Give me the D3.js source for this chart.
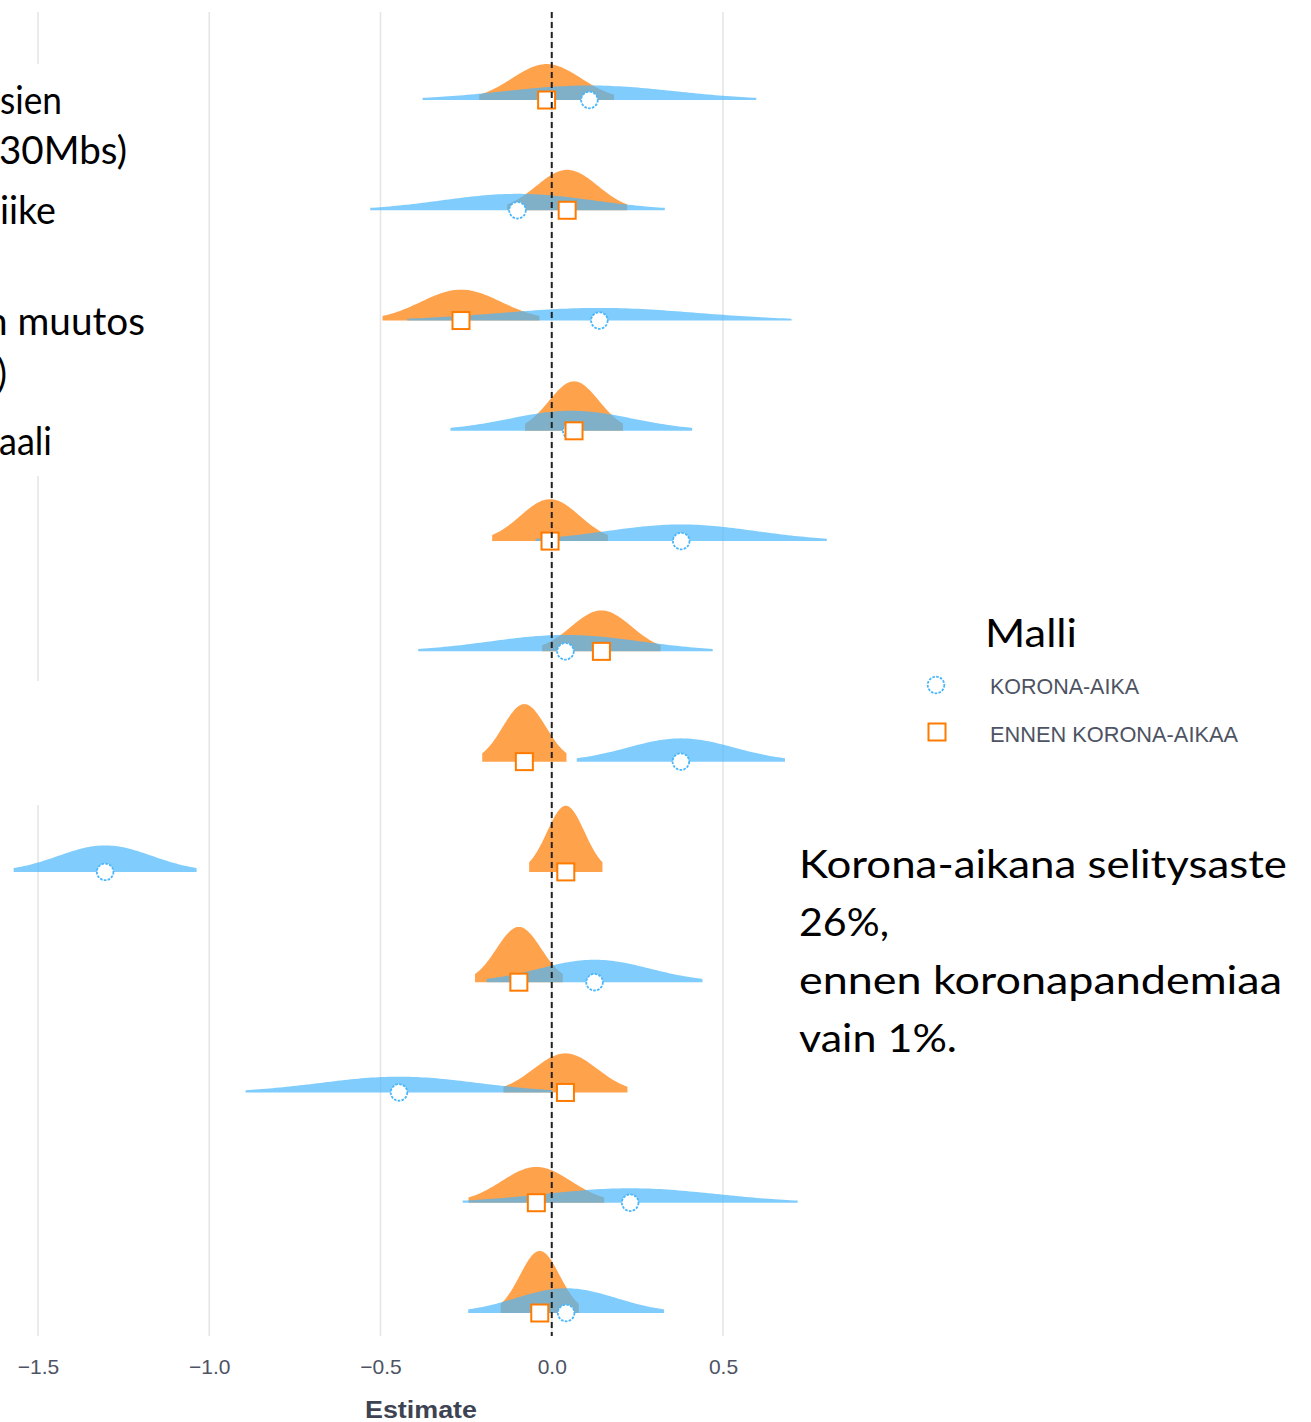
<!DOCTYPE html>
<html>
<head>
<meta charset="utf-8">
<script src="https://cdn.jsdelivr.net/npm/d3@7"></script>
<style>
  html, body { margin: 0; padding: 0; background: #ffffff; }
  svg { display: block; }
</style>
</head>
<body>
<svg id="chart" width="1311" height="1422"></svg>
<script>
// ---- DATA ----
// Row keys (the original coefficient labels are hidden behind slide text boxes)
const terms = ["t1","t2","t3","t4","t5","t6","t7","t8","t9","t10","t11","t12"];

// Model "KORONA-AIKA": estimate and 95% interval
const koronaEst  = [0.110, -0.100, 0.139, 0.057, 0.378, 0.040, 0.377, -1.304, 0.125, -0.446, 0.229, 0.042];
const koronaLow  = [-0.377, -0.530, -0.422, -0.296, -0.047, -0.390, 0.073, -1.571, -0.190, -0.894, -0.260, -0.244];
const koronaHigh = [0.597, 0.330, 0.700, 0.410, 0.803, 0.470, 0.681, -1.037, 0.440, 0.002, 0.718, 0.328];

// Model "ENNEN KORONA-AIKAA": estimate and 95% interval
const ennenEst  = [-0.015, 0.045, -0.265, 0.065, -0.005, 0.145, -0.080, 0.041, -0.096, 0.040, -0.045, -0.035];
const ennenLow  = [-0.212, -0.130, -0.494, -0.078, -0.174, -0.028, -0.203, -0.066, -0.224, -0.141, -0.243, -0.149];
const ennenHigh = [0.182, 0.220, -0.036, 0.208, 0.164, 0.318, 0.043, 0.148, 0.032, 0.221, 0.153, 0.079];

const xTicks = [-1.5, -1.0, -0.5, 0.0, 0.5];
const modelNames = ["KORONA-AIKA", "ENNEN KORONA-AIKAA"];
const legendTitle = "Malli";
const xTitle = "Estimate";

// Slide overlay texts (partially cut at the left edge of the picture)
const leftFragments = ["sien", "30Mbs)", "iike", "n muutos", ")", "aali"];
const noteLines = ["Korona-aikana selitysaste", "26%,", "ennen koronapandemiaa", "vain 1%."];

// ---- DRAWING ----
const svg = d3.select("#chart");
const W = 1311, H = 1422;
svg.append("rect").attr("width", W).attr("height", H).attr("fill", "#fff");

const panelTop = 12, panelBottom = 1336;
const x = d3.scaleLinear().domain([-1.5, 0.5]).range([38, 723]);
const y = d3.scalePoint().domain(terms).range([100, 1313]);
const h = d3.scaleLinear().domain([0, 1]).range([0, 9.05]); // density -> px

const BLUE = "#49b7fc", ORANGE = "#ff7b00";
const Z = 1.96;

// gridlines
svg.append("g").selectAll("line").data(xTicks).join("line")
  .attr("x1", d => x(d)).attr("x2", d => x(d))
  .attr("y1", panelTop).attr("y2", panelBottom)
  .attr("stroke", "#e6e6e6").attr("stroke-width", 1.6);

function normPdf(v, m, s) {
  return Math.exp(-0.5 * ((v - m) / s) ** 2) / (s * Math.sqrt(2 * Math.PI));
}
function distData(est, lo, hi) {
  const s = (hi - lo) / (2 * Z);
  const n = 90;
  return d3.range(n + 1).map(i => {
    const v = lo + (hi - lo) * i / n;
    return { v, d: normPdf(v, est, s) };
  });
}

const series = [
  { name: modelNames[1], est: ennenEst, lo: ennenLow, hi: ennenHigh, color: ORANGE },
  { name: modelNames[0], est: koronaEst, lo: koronaLow, hi: koronaHigh, color: BLUE }
];

const gDist = svg.append("g");
series.forEach(s => {
  terms.forEach((t, i) => {
    const base = y(t);
    const area = d3.area()
      .x(p => x(p.v))
      .y0(base)
      .y1(p => base - h(p.d));
    gDist.append("path")
      .attr("d", area(distData(s.est[i], s.lo[i], s.hi[i])))
      .attr("fill", s.color)
      .attr("fill-opacity", 0.7);
  });
});

// points: circles (KORONA-AIKA) then squares (ENNEN)
const gPts = svg.append("g");
gPts.selectAll("circle").data(terms).join("circle")
  .attr("cx", (t, i) => x(koronaEst[i]))
  .attr("cy", t => y(t))
  .attr("r", 8.3)
  .attr("fill", "#fff")
  .attr("stroke", BLUE)
  .attr("stroke-width", 1.8)
  .attr("stroke-dasharray", "2.6,1.3");
const sq = 17;
gPts.selectAll("rect").data(terms).join("rect")
  .attr("x", (t, i) => x(ennenEst[i]) - sq / 2)
  .attr("y", t => y(t) - sq / 2)
  .attr("width", sq).attr("height", sq)
  .attr("fill", "#fff")
  .attr("stroke", ORANGE)
  .attr("stroke-width", 2);

// zero reference line
svg.append("line")
  .attr("x1", x(0)).attr("x2", x(0))
  .attr("y1", panelTop).attr("y2", panelBottom)
  .attr("stroke", "#222").attr("stroke-width", 2)
  .attr("stroke-dasharray", "6,4");

// x axis (labels only)
const axis = d3.axisBottom(x).tickValues(xTicks).tickFormat(d3.format(".1f")).tickSize(0);
const gAxis = svg.append("g").attr("transform", `translate(0,${1374})`).call(axis);
gAxis.select(".domain").remove();
gAxis.selectAll("text")
  .attr("font-family", "Liberation Sans, Arial, sans-serif")
  .attr("font-size", 21)
  .attr("fill", "#4d5363")
  .attr("y", 0)
  .attr("dy", 0);
svg.append("text")
  .attr("x", 421).attr("y", 1418)
  .attr("text-anchor", "middle")
  .attr("font-family", "Liberation Sans, Arial, sans-serif")
  .attr("font-weight", "bold")
  .attr("font-size", 23.5)
  .attr("textLength", 112).attr("lengthAdjust", "spacingAndGlyphs")
  .attr("fill", "#3d4352")
  .text(xTitle);

// legend
const OV = "Lato, 'Open Sans', sans-serif";
svg.append("text").attr("x", 985).attr("y", 647)
  .attr("font-family", OV).attr("font-size", 38).attr("fill", "#000")
  .attr("textLength", 92).attr("lengthAdjust", "spacingAndGlyphs")
  .text(legendTitle);
svg.append("circle").attr("cx", 936).attr("cy", 685).attr("r", 8.3)
  .attr("fill", "#fff").attr("stroke", BLUE).attr("stroke-width", 1.8)
  .attr("stroke-dasharray", "2.6,1.3");
svg.append("rect").attr("x", 937 - sq / 2).attr("y", 732 - sq / 2)
  .attr("width", sq).attr("height", sq)
  .attr("fill", "#fff").attr("stroke", ORANGE).attr("stroke-width", 2);
const legLab = [
  { t: modelNames[0], y: 694, w: 149 },
  { t: modelNames[1], y: 742, w: 248 }
];
svg.append("g").selectAll("text").data(legLab).join("text")
  .attr("x", 990).attr("y", d => d.y)
  .attr("font-family", "Liberation Sans, Arial, sans-serif")
  .attr("font-size", 21.5)
  .attr("fill", "#4d5363")
  .attr("textLength", d => d.w).attr("lengthAdjust", "spacingAndGlyphs")
  .text(d => d.t);

// left overlay text boxes (white boxes hiding the original axis labels)
svg.append("rect").attr("x", 0).attr("y", 64).attr("width", 190).attr("height", 412).attr("fill", "#fff");
svg.append("rect").attr("x", 0).attr("y", 681).attr("width", 190).attr("height", 124).attr("fill", "#fff");
const leftPos = [
  { x: 0, y: 114, w: 62 },
  { x: -1, y: 164, w: 128 },
  { x: 0, y: 224, w: 56 },
  { x: -14, y: 335, w: 159 },
  { x: -3, y: 387, w: 10 },
  { x: -1, y: 455, w: 53 }
];
svg.append("g").selectAll("text").data(leftFragments).join("text")
  .attr("x", (d, i) => leftPos[i].x).attr("y", (d, i) => leftPos[i].y)
  .attr("font-family", OV).attr("font-size", 38).attr("fill", "#000")
  .attr("textLength", (d, i) => leftPos[i].w).attr("lengthAdjust", "spacingAndGlyphs")
  .text(d => d);

// right note
const noteW = [488, 90, 483, 158];
svg.append("g").selectAll("text").data(noteLines).join("text")
  .attr("x", 799).attr("y", (d, i) => 878 + i * 58)
  .attr("font-family", OV).attr("font-size", 38).attr("fill", "#000")
  .attr("textLength", (d, i) => noteW[i]).attr("lengthAdjust", "spacingAndGlyphs")
  .text(d => d);
</script>
</body>
</html>
